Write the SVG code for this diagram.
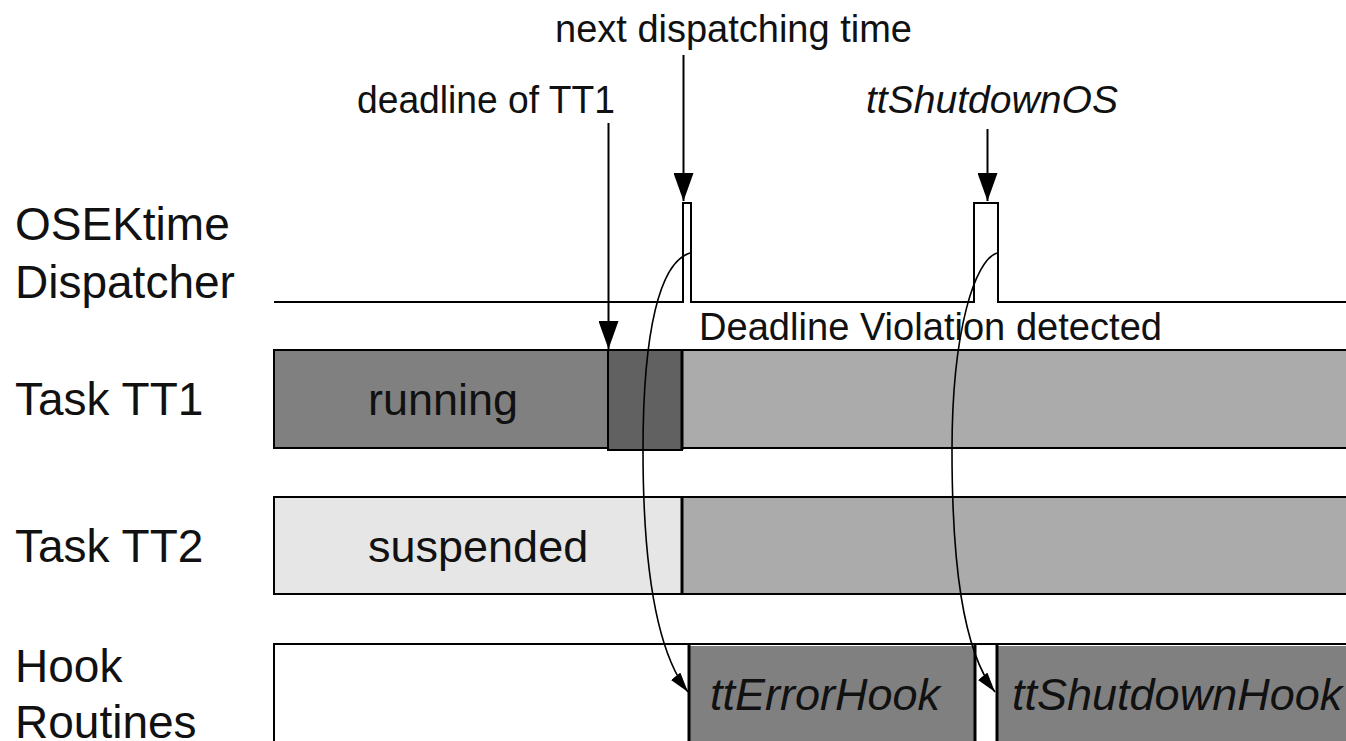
<svg xmlns="http://www.w3.org/2000/svg" width="1346" height="741" viewBox="0 0 1346 741">
  <style>
    text { font-family: "Liberation Sans", Arial, sans-serif; fill: #111; }
    .row { font-size: 46px; }
    .state { font-size: 45px; }
    .note { font-size: 38px; }
    .it { font-style: italic; }
    .edge { stroke: #000; stroke-width: 2; }
    .flow { fill: none; stroke: #000; stroke-width: 1.6; }
    .pin { fill: none; stroke: #000; stroke-width: 2; }
  </style>
  <defs>
    <marker id="headBig" viewBox="0 0 28 20" refX="28" refY="10" markerWidth="28" markerHeight="20" markerUnits="userSpaceOnUse" orient="auto">
      <path d="M0,0 L28,10 L0,20 Z" fill="#000"/>
    </marker>
    <marker id="headSmall" viewBox="0 0 20 12" refX="20" refY="6" markerWidth="20" markerHeight="12" markerUnits="userSpaceOnUse" orient="auto">
      <path d="M0,0 L20,6 L0,12 Z" fill="#000"/>
    </marker>
  </defs>
  <rect width="1346" height="741" fill="#fff"/>

  <!-- row captions -->
  <g id="captions">
    <text class="row" x="15" y="240">OSEKtime</text>
    <text class="row" x="15" y="298">Dispatcher</text>
    <text class="row" x="15" y="415">Task TT1</text>
    <text class="row" x="15" y="562">Task TT2</text>
    <text class="row" x="15" y="682">Hook</text>
    <text class="row" x="15" y="738">Routines</text>
  </g>

  <!-- dispatcher activity line with two pulses -->
  <g id="dispatcher">
    <path d="M274,302 H683 V203 H691 V302 H974 V203 H998 V302 H1346" fill="none" stroke="#000" stroke-width="2"/>
  </g>

  <!-- task TT1 timeline -->
  <g id="task-tt1">
    <rect x="274" y="350" width="1080" height="98" fill="#ababab" class="edge"/>
    <rect x="274" y="350" width="334" height="98" fill="#808080" class="edge"/>
    <rect x="608" y="350" width="74" height="100" fill="#616161" class="edge"/>
    <line x1="682" y1="350" x2="682" y2="450" stroke="#000" stroke-width="3"/>
    <text class="state" x="368" y="415">running</text>
  </g>

  <!-- task TT2 timeline -->
  <g id="task-tt2">
    <rect x="274" y="497" width="1080" height="97" fill="#ababab" class="edge"/>
    <rect x="274" y="497" width="408" height="97" fill="#e6e6e6" class="edge"/>
    <line x1="682" y1="497" x2="682" y2="594" stroke="#000" stroke-width="3"/>
    <text class="state" x="368" y="562">suspended</text>
  </g>

  <!-- hook routines timeline -->
  <g id="hooks">
    <rect x="274" y="644" width="1080" height="110" fill="#fff" class="edge"/>
    <g id="tt-error-hook">
      <rect x="689" y="646" width="286" height="108" fill="#808080"/>
      <line x1="689" y1="644" x2="689" y2="741" stroke="#000" stroke-width="3"/>
      <line x1="975" y1="644" x2="975" y2="741" stroke="#000" stroke-width="3"/>
      <text class="state it" x="710" y="710">ttErrorHook</text>
    </g>
    <g id="tt-shutdown-hook">
      <rect x="997" y="646" width="360" height="108" fill="#808080"/>
      <line x1="997" y1="644" x2="997" y2="741" stroke="#000" stroke-width="3"/>
      <text class="state it" x="1012" y="710">ttShutdownHook</text>
    </g>
  </g>

  <!-- annotations -->
  <g id="labels">
    <text class="note" x="555" y="42" textLength="357" lengthAdjust="spacingAndGlyphs">next dispatching time</text>
    <text class="note" x="357" y="113" textLength="258" lengthAdjust="spacingAndGlyphs">deadline of TT1</text>
    <text class="note it" x="866" y="113" textLength="252" lengthAdjust="spacingAndGlyphs">ttShutdownOS</text>
    <text class="note" x="699" y="340" textLength="463" lengthAdjust="spacingAndGlyphs">Deadline Violation detected</text>
  </g>

  <!-- connectors -->
  <g id="connectors">
    <line class="pin" x1="683.5" y1="55" x2="683.5" y2="201" marker-end="url(#headBig)"/>
    <line class="pin" x1="987.5" y1="129" x2="987.5" y2="201" marker-end="url(#headBig)"/>
    <line class="pin" x1="608.5" y1="123" x2="608.5" y2="349" marker-end="url(#headBig)"/>
    <path class="flow" d="M690,253 C660,262 643,330 643,450 C643,560 655,650 688,692" marker-end="url(#headSmall)"/>
    <path class="flow" d="M997,253 C975,260 952,330 952,450 C952,560 962,650 995,692" marker-end="url(#headSmall)"/>
  </g>
</svg>
